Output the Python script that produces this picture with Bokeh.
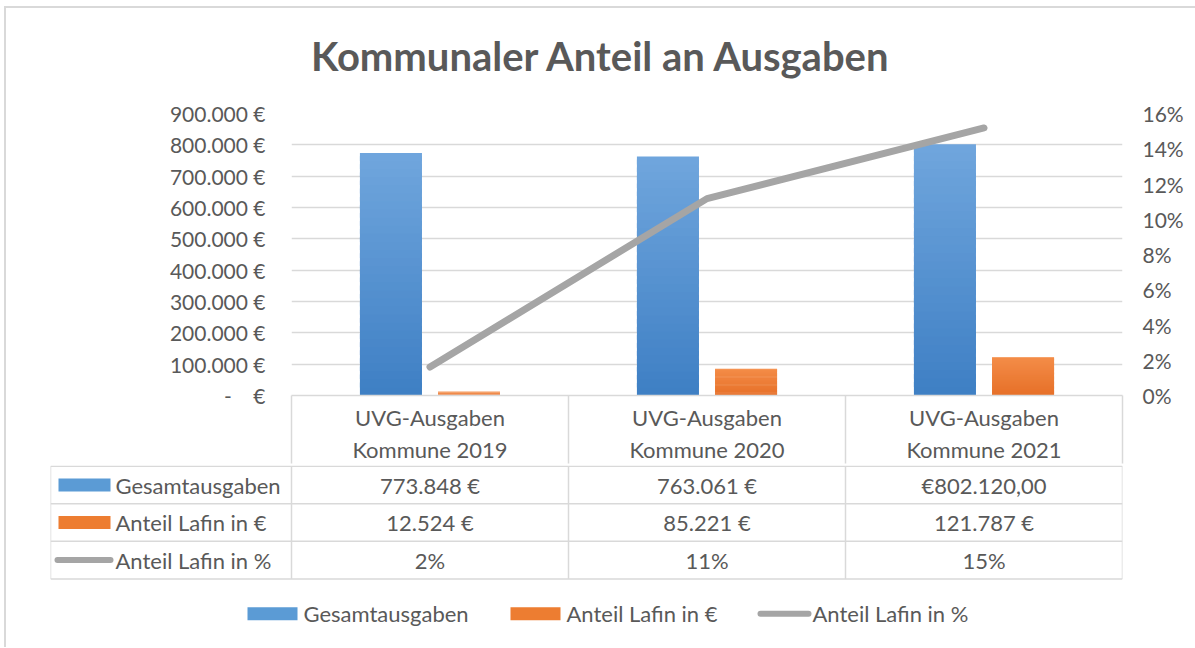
from bokeh.plotting import figure
from bokeh.models import Range1d, LinearAxis, FixedTicker
from bokeh.layouts import column
from bokeh.core.properties import value
from bokeh.embed import file_html
from bokeh.resources import INLINE

# ---------------- data ----------------
categories = ["UVG-Ausgaben\nKommune 2019", "UVG-Ausgaben\nKommune 2020", "UVG-Ausgaben\nKommune 2021"]
gesamtausgaben = [773848, 763061, 802120]
anteil_eur = [12524, 85221, 121787]
anteil_pct = [0.0162, 0.1117, 0.1518]
series_names = ["Gesamtausgaben", "Anteil Lafin in €", "Anteil Lafin in %"]
table_gesamt = ["773.848 €", "763.061 €", "€802.120,00"]
table_eur = ["12.524 €", "85.221 €", "121.787 €"]
table_pct = ["2%", "11%", "15%"]
left_ticks = [0, 100000, 200000, 300000, 400000, 500000, 600000, 700000, 800000, 900000]
left_tick_labels = ["-\u00a0\u00a0\u00a0\u00a0€", "100.000 €", "200.000 €", "300.000 €", "400.000 €", "500.000 €",
                    "600.000 €", "700.000 €", "800.000 €", "900.000 €"]
right_ticks = [0, 0.02, 0.04, 0.06, 0.08, 0.10, 0.12, 0.14, 0.16]
right_tick_labels = ["0%", "2%", "4%", "6%", "8%", "10%", "12%", "14%", "16%"]
title_text = "Kommunaler Anteil an Ausgaben"

# ---------------- style ----------------
FONT = "Lato"
TXT = "#595959"
GRID = "#d9d9d9"
BLUE_TOP, BLUE_BOT = (112, 166, 221), (62, 127, 196)
ORANGE_TOP, ORANGE_BOT = (244, 140, 72), (230, 112, 40)
BLUE = "#5b9bd5"
ORANGE = "#ed7d31"
GRAY = "#a5a5a5"
FS = "21px"
FS_T = "22px"
W = 1189
OX, OY = 6, 8          # page offset of the figures (after margin + border)

n = len(categories)
xc = [i + 0.5 for i in range(n)]
bw = 0.224
off = 0.141


def mix(c0, c1, f):
    return "#%02x%02x%02x" % tuple(int(round(a + (b_ - a) * f)) for a, b_ in zip(c0, c1))


# ---------------- title figure ----------------
th = 98 - OY
t = figure(width=W, height=th, x_range=Range1d(0, W), y_range=Range1d(0, th),
           output_backend="svg", toolbar_location=None, min_border=0, frame_align=False)
t.axis.visible = False
t.grid.visible = False
t.outline_line_color = None
t.text(x=[601 - OX], y=[th - (55 - OY)], text=[title_text], text_font=value(FONT), text_font_style="bold",
       text_font_size="40px", text_color=TXT, text_align="center", text_baseline="middle")

# ---------------- chart figure ----------------
p = figure(width=W, height=367, x_range=Range1d(0, n), y_range=Range1d(0, 900000),
           output_backend="svg", toolbar_location=None, frame_align=False,
           min_border_left=291 - OX, min_border_right=W - (1122 - OX), min_border_top=113 - 98,
           min_border_bottom=68)
p.outline_line_color = None
p.xgrid.visible = False
p.ygrid.grid_line_color = GRID
p.ygrid.grid_line_width = 1.3
p.extra_y_ranges = {"pct": Range1d(0, 0.16)}

# bars with a vertical gradient (overlapping stacked slices of each bar)
K = 30
for k in range(K):
    f = (k + 0.5) / K
    kt = min(k + 1.6, K)
    p.vbar(x=[x - off for x in xc], bottom=[v * k / K for v in gesamtausgaben],
           top=[v * kt / K for v in gesamtausgaben], width=bw,
           fill_color=mix(BLUE_BOT, BLUE_TOP, f), line_color=None)
    p.vbar(x=[x + off for x in xc], bottom=[v * k / K for v in anteil_eur],
           top=[v * kt / K for v in anteil_eur], width=bw,
           fill_color=mix(ORANGE_BOT, ORANGE_TOP, f), line_color=None)

p.line(x=xc, y=anteil_pct, y_range_name="pct", line_width=7, line_color=GRAY,
       line_cap="round", line_join="round")

ya = p.yaxis[0]
ya.ticker = FixedTicker(ticks=left_ticks)
ya.major_label_overrides = {tk: lb for tk, lb in zip(left_ticks, left_tick_labels)}
ya.axis_line_color = None
ya.major_tick_line_color = None
ya.minor_tick_line_color = None
ya.major_tick_out = 0
ya.major_label_standoff = 26
ya.major_label_text_font = FONT
ya.major_label_text_font_size = FS
ya.major_label_text_color = TXT

ra = LinearAxis(y_range_name="pct", ticker=FixedTicker(ticks=right_ticks))
ra.major_label_overrides = {tk: lb for tk, lb in zip(right_ticks, right_tick_labels)}
ra.axis_line_color = None
ra.major_tick_line_color = None
ra.minor_tick_line_color = None
ra.major_tick_out = 0
ra.major_label_standoff = 20
ra.major_label_text_font = FONT
ra.major_label_text_font_size = FS
ra.major_label_text_color = TXT
p.add_layout(ra, "right")

xa = p.xaxis[0]
xa.ticker = FixedTicker(ticks=xc, minor_ticks=list(range(n + 1)))
xa.major_label_overrides = {x: c for x, c in zip(xc, categories)}
xa.axis_line_color = GRID
xa.axis_line_width = 1.5
xa.major_tick_line_color = None
xa.major_tick_out = 0
xa.major_tick_in = 0
xa.minor_tick_line_color = GRID
xa.minor_tick_line_width = 1.5
xa.minor_tick_out = 68
xa.minor_tick_in = 0
xa.major_label_standoff = 8 - 68
xa.major_label_text_font = FONT
xa.major_label_text_font_size = FS_T
xa.major_label_text_color = TXT

# ---------------- table + legend figure ----------------
left_w = 241 / 277.0
row_h = 37.7
bh = 182
b = figure(width=W, height=bh, x_range=Range1d(-left_w, n), y_range=Range1d(bh / row_h, -0.02),
           output_backend="svg", toolbar_location=None, frame_align=False,
           min_border_left=50 - OX, min_border_right=W - (1122 - OX), min_border_top=0, min_border_bottom=0)
b.axis.visible = False
b.grid.visible = False
b.outline_line_color = None

nrows = 3
b.segment(x0=[-left_w] * (nrows + 1), x1=[n] * (nrows + 1), y0=list(range(nrows + 1)),
          y1=list(range(nrows + 1)), line_color=GRID, line_width=1.5)
vx = [-left_w] + list(range(n + 1))
b.segment(x0=vx, x1=vx, y0=[0] * len(vx), y1=[nrows] * len(vx), line_color=GRID, line_width=1.5)

rows = [table_gesamt, table_eur, table_pct]
for r, vals in enumerate(rows):
    b.text(x=xc, y=[r + 0.5] * n, text=vals, text_font=value(FONT), text_font_size=FS_T,
           text_color=TXT, text_align="center", text_baseline="middle")

# row label swatches
sw0, sw1 = (58 - 291) / 277.0, (110 - 291) / 277.0
b.rect(x=[(sw0 + sw1) / 2] * 2, y=[0.5, 1.5], width=sw1 - sw0, height=13, height_units="screen",
       fill_color=[BLUE, ORANGE], line_color=None)
b.line(x=[(57 - 291) / 277.0, sw1], y=[2.5, 2.5], line_width=6, line_color=GRAY, line_cap="round")
b.text(x=[(115 - 291) / 277.0] * 3, y=[0.5, 1.5, 2.5], text=series_names, text_font=value(FONT),
       text_font_size=FS_T, text_color=TXT, text_align="left", text_baseline="middle")

# bottom legend
ly = (613 - 465) / row_h
lg = [(247, 297), (510, 560)]
b.rect(x=[((a + c) / 2 - 291) / 277.0 for a, c in lg], y=[ly, ly], width=50 / 277.0, height=13,
       height_units="screen", fill_color=[BLUE, ORANGE], line_color=None)
b.line(x=[(760 - 291) / 277.0, (808 - 291) / 277.0], y=[ly, ly], line_width=6, line_color=GRAY,
       line_cap="round")
b.text(x=[(303 - 291) / 277.0, (566 - 291) / 277.0, (812 - 291) / 277.0], y=[ly] * 3, text=series_names,
       text_font=value(FONT), text_font_size=FS_T, text_color=TXT, text_align="left", text_baseline="middle")

layout = column(t, p, b, spacing=0, margin=(6, 0, 0, 4),
                styles={"border-left": "2px solid #d9d9d9", "border-top": "2px solid #d9d9d9"})
open("out.html", "w").write(file_html(layout, INLINE))
